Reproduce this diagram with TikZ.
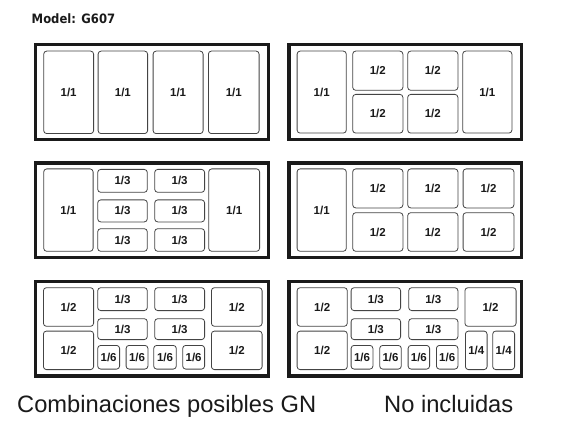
\documentclass[tikz,border=0pt]{standalone}
\usepackage{fontspec}
\setmainfont{Liberation Sans}
\newfontfamily\modelfont{DejaVu Sans}[FakeStretch=0.9]
\definecolor{framec}{HTML}{1A1A1A}
\definecolor{panc}{HTML}{444444}
\definecolor{txtc}{HTML}{1A1A1A}
\tikzset{
  frm/.style={draw=framec, line width=3.5pt, inner sep=0pt, fill=white},
  pan/.style={draw=panc, line width=0.8pt, rounded corners=3pt, inner sep=0pt,
    font=\fontsize{11.5}{13}\selectfont\bfseries, text=txtc},
}
\newcommand{\frm}[5]{\node[frm, minimum width={(#3-#2-3.5)*1pt}, minimum height={(#5-#4-3.5)*1pt}] (#1) at ({(#2+#3)/2},{(#4+#5)/2}) {};}
\newcommand{\pan}[6]{\node[pan, minimum width={(#3-#2-0.8)*1pt}, minimum height={(#5-#4-0.8)*1pt}] (#1) at ({(#2+#3)/2},{(#4+#5)/2}) {#6};}
\begin{document}
\begin{tikzpicture}[x=1pt,y=-1pt]
\useasboundingbox[fill=white] (0,0) rectangle (584,425);
\node[anchor=base west, inner sep=0pt, font=\modelfont\bfseries\fontsize{12.9}{15}\selectfont, text=txtc] (title) at (31.5,24) {Model: G607};
% ---------- Row 1 left
\frm{fA}{33.5}{270}{43}{141.5}
\pan{a1}{43.3}{94}{50.7}{134}{1/1}
\pan{a2}{97.7}{148}{50.7}{134}{1/1}
\pan{a3}{152.7}{203.5}{50.7}{134}{1/1}
\pan{a4}{208}{259.5}{50.7}{134}{1/1}
% ---------- Row 1 right
\frm{fB}{287.3}{523.3}{43}{141.5}
\pan{b1}{296.7}{346.7}{50.7}{133.5}{1/1}
\pan{b2}{352.3}{403.3}{50.7}{90.7}{1/2}
\pan{b3}{407.3}{458.3}{50.7}{90.7}{1/2}
\pan{b4}{352.3}{403.3}{94}{133.5}{1/2}
\pan{b5}{407.3}{458.3}{94}{133.5}{1/2}
\pan{b6}{462.3}{512.3}{50.7}{133.5}{1/1}
% ---------- Row 2 left
\frm{fC}{33.5}{270}{161.3}{259}
\pan{c1}{43.3}{93.5}{168.5}{251.7}{1/1}
\pan{c2}{97.3}{147.7}{169}{192.7}{1/3}
\pan{c3}{154.3}{205}{169}{192.7}{1/3}
\pan{c4}{97.3}{147.7}{199.5}{222.3}{1/3}
\pan{c5}{154.3}{205}{199.5}{222.3}{1/3}
\pan{c6}{97.3}{147.7}{228.3}{251.7}{1/3}
\pan{c7}{154.3}{205}{228.3}{251.7}{1/3}
\pan{c8}{208.3}{260}{168.5}{251.7}{1/1}
% ---------- Row 2 right
\frm{fD}{287.3}{523.3}{161.3}{259}
\pan{d1}{296.7}{346.7}{168.5}{251.7}{1/1}
\pan{d2}{352.3}{403.3}{168.5}{208.3}{1/2}
\pan{d3}{407.3}{458.3}{168.5}{208.3}{1/2}
\pan{d4}{462.7}{514.3}{168.5}{208.3}{1/2}
\pan{d5}{352.3}{403.3}{212.3}{251.7}{1/2}
\pan{d6}{407.3}{458.3}{212.3}{251.7}{1/2}
\pan{d7}{462.7}{514.3}{212.3}{251.7}{1/2}
% ---------- Row 3 left
\frm{fE}{33.5}{270}{279.8}{377.5}
\pan{e1}{43}{94}{287.3}{326.7}{1/2}
\pan{e2}{43}{94}{330.7}{370}{1/2}
\pan{e3}{97.3}{147.7}{287.3}{311}{1/3}
\pan{e4}{154.3}{205}{287.3}{311}{1/3}
\pan{e5}{97.3}{147.7}{318.3}{340}{1/3}
\pan{e6}{154.3}{205}{318.3}{340}{1/3}
\pan{e7}{97.3}{120}{345}{369.5}{1/6}
\pan{e8}{125.7}{148.3}{345}{369.5}{1/6}
\pan{e9}{153.3}{176.7}{345}{369.5}{1/6}
\pan{e10}{182.3}{205}{345}{369.5}{1/6}
\pan{e11}{211}{262.5}{287.3}{326.7}{1/2}
\pan{e12}{211}{262.5}{330.7}{370}{1/2}
% ---------- Row 3 right
\frm{fF}{287.3}{523.3}{279.8}{377.5}
\pan{g1}{296.7}{347.7}{287.3}{326.7}{1/2}
\pan{g2}{296.7}{347.7}{330.7}{370}{1/2}
\pan{g3}{350.7}{401}{287.3}{311}{1/3}
\pan{g4}{408.3}{458.3}{287.3}{311}{1/3}
\pan{g5}{350.7}{401}{318.3}{340}{1/3}
\pan{g6}{408.3}{458.3}{318.3}{340}{1/3}
\pan{g7}{350.7}{373.3}{345}{369.5}{1/6}
\pan{g8}{379.3}{401.7}{345}{369.5}{1/6}
\pan{g9}{407.7}{430}{345}{369.5}{1/6}
\pan{g10}{436}{458.3}{345}{369.5}{1/6}
\pan{g11}{464.5}{516.5}{287.3}{326.7}{1/2}
\pan{g12}{465}{487.5}{330.7}{370}{1/4}
\pan{g13}{492.3}{515}{330.7}{370}{1/4}
% ---------- captions
\node[anchor=base west, inner sep=0pt, font=\fontsize{23.7}{26}\selectfont, text=txtc] (cap1) at (17,412) {Combinaciones posibles GN};
\node[anchor=base west, inner sep=0pt, font=\fontsize{23.7}{26}\selectfont, text=txtc] (cap2) at (384,412) {No incluidas};
\end{tikzpicture}
\end{document}
